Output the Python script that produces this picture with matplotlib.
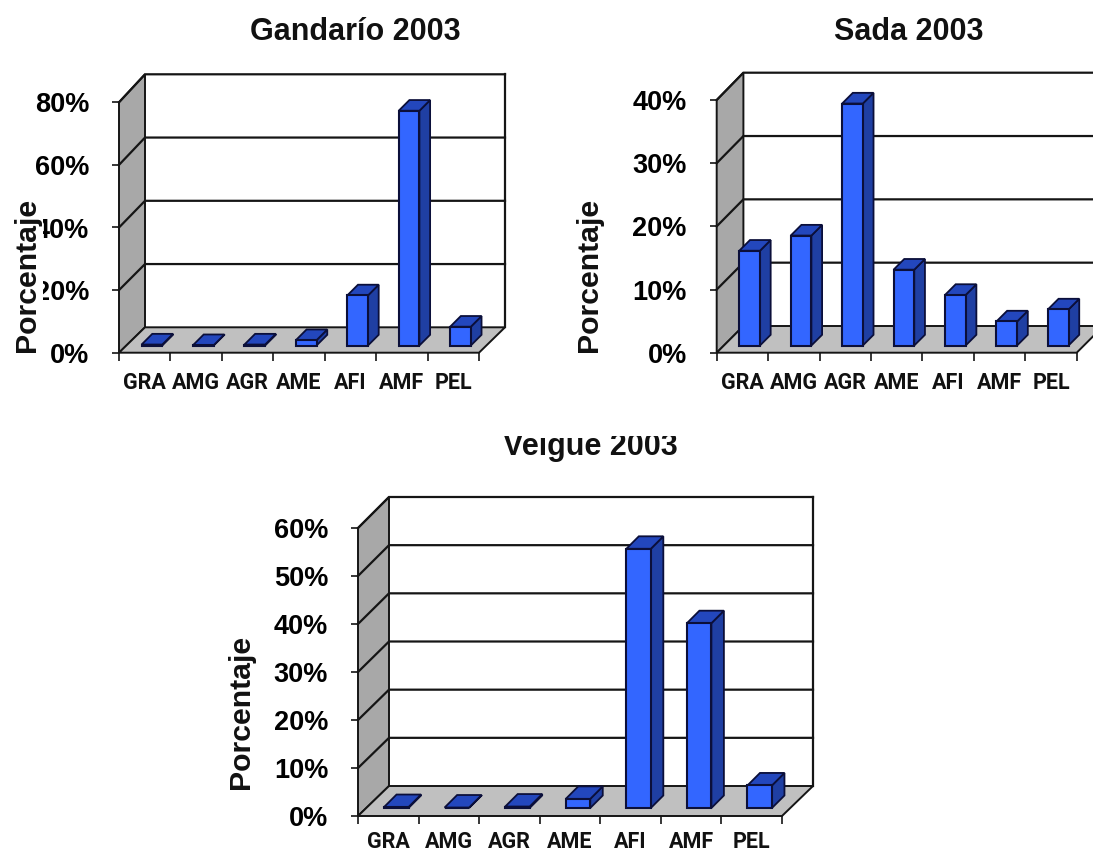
import matplotlib
matplotlib.use("Agg")
import matplotlib.pyplot as plt
from matplotlib.patches import Polygon
from matplotlib.transforms import Bbox, TransformedBbox

W, H = 1093, 852

categories = ["GRA", "AMG", "AGR", "AME", "AFI", "AMF", "PEL"]

gandario_title = "Gandarío 2003"
gandario_values = [0.3, 0.1, 0.3, 1.7, 16, 75, 6]
gandario_ticks = [0, 20, 40, 60, 80]

sada_title = "Sada 2003"
sada_values = [15, 17.4, 38.3, 12, 8, 3.8, 5.7]
sada_ticks = [0, 10, 20, 30, 40]

veigue_title = "Veigue 2003"
veigue_values = [0.2, 0.1, 0.3, 1.9, 54, 38.5, 4.7]
veigue_ticks = [0, 10, 20, 30, 40, 50, 60]

FRONT = "#3366ff"
SIDE = "#1f3fa3"
TOP = "#2347bd"
BAR_EDGE = "#0b0f3a"
WALL = "#a8a8a8"
FLOOR = "#c0c0c0"
LINE = "#151515"
LABEL_FONT = "Liberation Sans"
CAT_FONT = "Roboto"

fig = plt.figure(figsize=(W / 100, H / 100), dpi=100, facecolor="white")


def fx(px):
    return px / W


def fy(py):
    return 1 - py / H


def chart(title, values, ticks, left, right, top, bottom, depth_x, depth_floor,
          depth_top, bar_w, bar_off, bar_depth, title_xy, label_xy, label_size,
          title_clip=None, cat_pad=14):
    vmax = ticks[-1]
    ax = fig.add_axes([fx(left), fy(bottom), fx(right - left), (bottom - top) / H])
    ax.set_xlim(0, len(categories))
    ax.set_ylim(0, vmax)
    ax.set_frame_on(False)
    ax.patch.set_alpha(0)

    ux = len(categories) / (right - left)   # data units per pixel, horizontally
    uy = vmax / (bottom - top)              # data units per pixel, vertically
    n = len(categories)
    dx = depth_x * ux

    def back_y(v):
        return v + (depth_floor + (depth_top - depth_floor) * v / vmax) * uy

    # side wall, floor, and the outline of the chart box
    ax.add_patch(Polygon([(0, 0), (dx, back_y(0)), (dx, back_y(vmax)), (0, vmax)],
                         closed=True, fc=WALL, ec=LINE, lw=1.4, clip_on=False, zorder=1))
    ax.add_patch(Polygon([(0, 0), (dx, back_y(0)), (n + dx, back_y(0)), (n, 0)],
                         closed=True, fc=FLOOR, ec=LINE, lw=1.4, clip_on=False, zorder=1))
    for v in ticks[1:]:
        ax.plot([0, dx, n + dx], [v, back_y(v), back_y(v)], color=LINE, lw=1.6,
                clip_on=False, zorder=2, solid_joinstyle="miter")
    ax.plot([n + dx, n + dx], [back_y(0), back_y(vmax)], color=LINE, lw=1.6,
            clip_on=False, zorder=2)

    # bars: a front rectangle plus side and top faces pushed back in depth
    bw = bar_w * ux
    fdx = bar_off * ux
    fdy = bar_off * uy
    ddx = bar_depth * ux
    ddy = bar_depth * uy
    for i, v in enumerate(values):
        x0 = i + 0.5 + fdx - bw / 2
        x1 = x0 + bw
        y0 = fdy
        y1 = fdy + v
        ax.add_patch(Polygon([(x1, y0), (x1 + ddx, y0 + ddy), (x1 + ddx, y1 + ddy), (x1, y1)],
                             closed=True, fc=SIDE, ec=BAR_EDGE, lw=1.3, clip_on=False, zorder=3))
        ax.add_patch(Polygon([(x0, y1), (x1, y1), (x1 + ddx, y1 + ddy), (x0 + ddx, y1 + ddy)],
                             closed=True, fc=TOP, ec=BAR_EDGE, lw=1.3, clip_on=False, zorder=3))
    ax.bar([i + 0.5 + fdx for i in range(n)], values, width=bw, bottom=fdy,
           color=FRONT, edgecolor=BAR_EDGE, linewidth=1.5, clip_on=False, zorder=4)

    # axes
    ax.set_yticks(ticks)
    ax.set_yticklabels([f"{t}%" for t in ticks], fontfamily=LABEL_FONT,
                       fontweight="bold", fontsize=19.5)
    ax.tick_params(axis="y", length=5, width=1.2, pad=16.5, color=LINE)
    ax.set_xticks(range(n + 1))
    ax.set_xticklabels([])
    ax.set_xticks([i + 0.5 for i in range(n)], minor=True)
    ax.set_xticklabels(categories, minor=True, fontfamily=CAT_FONT,
                       fontweight="bold", fontsize=15.5, color="#111111")
    ax.tick_params(axis="x", which="major", length=5.5, width=1.2, color=LINE)
    ax.tick_params(axis="x", which="minor", length=0, pad=cat_pad)

    t = fig.text(fx(title_xy[0]), fy(title_xy[1]), title, ha="center", va="center",
                 fontfamily=LABEL_FONT, fontweight="bold", fontsize=22, color="#111111")
    if title_clip is not None:
        t.set_clip_box(TransformedBbox(Bbox([[0, 0], [1, fy(title_clip)]]), fig.transFigure))
        t.set_clip_on(True)

    # the white box lets the axis title sit on top of neighbouring tick labels
    fig.text(fx(label_xy[0]), fy(label_xy[1]), "Porcentaje", rotation=90,
             ha="center", va="center", fontfamily=LABEL_FONT, fontweight="bold",
             fontsize=label_size, color="#111111", zorder=5,
             bbox=dict(fc="white", ec="none", pad=1.5))


chart(gandario_title, gandario_values, gandario_ticks,
      left=119, right=479, top=102.3, bottom=352.7,
      depth_x=26, depth_floor=25.4, depth_top=28,
      bar_w=20.7, bar_off=7.2, bar_depth=10.7,
      title_xy=(355, 32.5), label_xy=(27, 275), label_size=21.8)

chart(sada_title, sada_values, sada_ticks,
      left=716.7, right=1076.7, top=100, bottom=352.7,
      depth_x=26.7, depth_floor=26.7, depth_top=27.3,
      bar_w=20.7, bar_off=7.2, bar_depth=10.7,
      title_xy=(909, 32.5), label_xy=(589, 275), label_size=21.8)

chart(veigue_title, veigue_values, veigue_ticks,
      left=358, right=782, top=528, bottom=816,
      depth_x=31, depth_floor=30, depth_top=31,
      bar_w=24.5, bar_off=8, bar_depth=12.5,
      title_xy=(590, 447.5), label_xy=(241, 712), label_size=21.8,
      title_clip=436, cat_pad=11)

fig.savefig("out.png", dpi=100, facecolor="white")
